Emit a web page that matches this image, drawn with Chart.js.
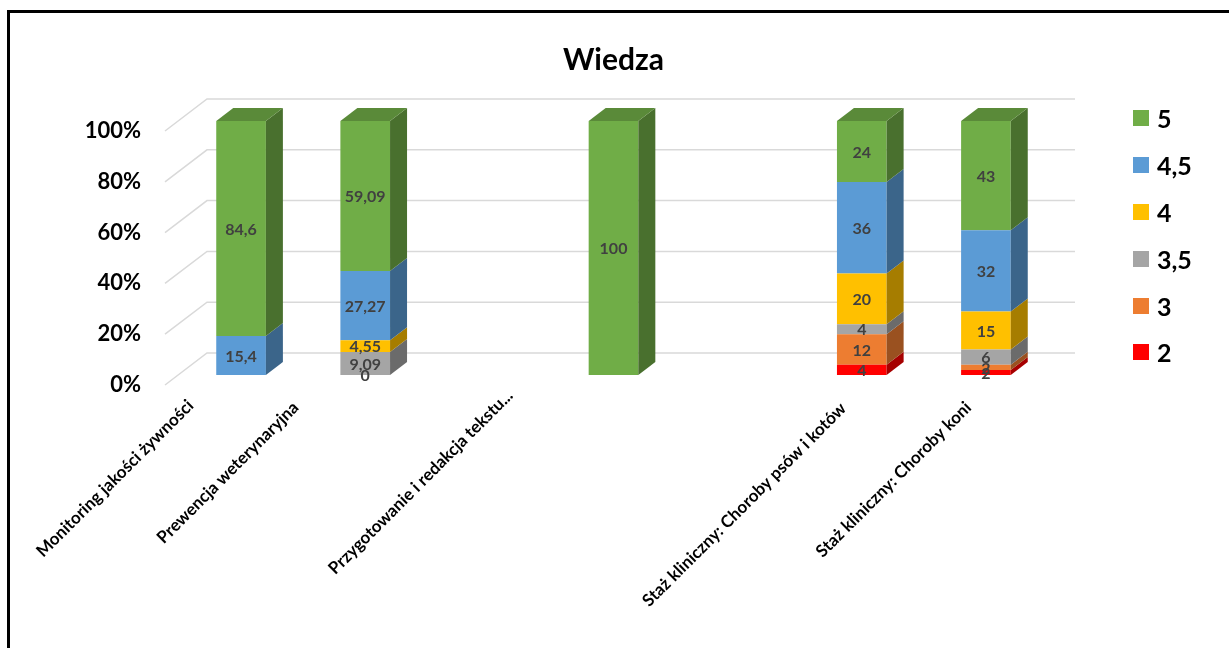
<!DOCTYPE html>
<html lang="pl">
<head>
<meta charset="utf-8">
<title>Wiedza</title>
<script src="https://cdn.jsdelivr.net/npm/chart.js@4.4.1/dist/chart.umd.min.js"></script>
<style>
  html, body { margin: 0; padding: 0; background: #fff; overflow: hidden; }
  #wrap { position: relative; width: 1229px; height: 648px; }
  #frame {
    position: absolute; left: 7px; top: 10px; right: -10px; bottom: -10px;
    border-left: 3px solid #000; border-top: 3px solid #000; pointer-events: none;
  }
  #legend {
    position: absolute; left: 1133px; top: 95px;
    font-family: Lato, "Open Sans", sans-serif; font-weight: bold; font-size: 25px; color: #000;
  }
  .item { height: 46.8px; display: flex; align-items: center; }
  .swatch { width: 16px; height: 16px; margin-right: 8px; }
</style>
</head>
<body>
<div id="wrap">
  <canvas id="chart"></canvas>
  <div id="frame"></div>
  <div id="legend"></div>
</div>
<script>
const categories = [
  "Monitoring jakości żywności",
  "Prewencja weterynaryjna",
  "",
  "Przygotowanie i redakcja tekstu...",
  "",
  "Staż kliniczny: Choroby psów i kotów",
  "Staż kliniczny: Choroby koni"
];

// series from the bottom of the stack upwards
const seriesNames = ["2", "3", "3,5", "4", "4,5", "5"];
const grade2  = [null, null, null, null, null, 4, 2];
const grade3  = [null, 0, null, null, null, 12, 2];
const grade35 = [null, 9.09, null, null, null, 4, 6];
const grade4  = [null, 4.55, null, null, null, 20, 15];
const grade45 = [15.4, 27.27, null, null, null, 36, 32];
const grade5  = [84.6, 59.09, null, 100, null, 24, 43];
const yTicks = [0, 20, 40, 60, 80, 100];

const seriesValues = [grade2, grade3, grade35, grade4, grade45, grade5];
const seriesColors = ["#ff0000", "#ed7d31", "#a5a5a5", "#ffc000", "#5b9bd5", "#70ad47"];

// placement of the rotated category names (Excel shifts them unevenly)
const labelShiftX = [-36, -55, 0, -89, 0, -4, -3];
const labelPadY = [35, 37, 0, 25, 0, 38, 37];

const depthX = 17, depthY = 13;
const FONT = "Lato, 'Open Sans', sans-serif";

function shade(hex, f) {
  const n = parseInt(hex.slice(1), 16);
  const r = Math.round(((n >> 16) & 255) * f);
  const g = Math.round(((n >> 8) & 255) * f);
  const b = Math.round((n & 255) * f);
  return `rgb(${r},${g},${b})`;
}

function fmt(v) {
  return String(v).replace(".", ",");
}

const wallPlugin = {
  id: "wall",
  beforeDatasetsDraw(chart) {
    const { ctx, chartArea } = chart;
    const y = chart.scales.y;
    ctx.save();
    ctx.strokeStyle = "#d9d9d9";
    ctx.lineWidth = 1.5;
    yTicks.forEach((v) => {
      const p = y.getPixelForValue(v);
      ctx.beginPath();
      ctx.moveTo(chartArea.left - 14, p + 10);
      ctx.lineTo(chartArea.left + 28, p - 22);
      ctx.lineTo(chartArea.right + 27, p - 22);
      ctx.stroke();
    });
    ctx.restore();
  }
};

const boxPlugin = {
  id: "box3d",
  afterDatasetsDraw(chart) {
    const { ctx } = chart;
    ctx.save();
    // side and top faces
    chart.data.datasets.forEach((ds, i) => {
      const meta = chart.getDatasetMeta(i);
      meta.data.forEach((bar, j) => {
        const v = ds.data[j];
        if (v === null || v === 0) return;
        const { x, y, base, width } = bar.getProps(["x", "y", "base", "width"], true);
        const l = x - width / 2, r = x + width / 2;
        ctx.fillStyle = shade(ds.backgroundColor, 0.65);
        ctx.beginPath();
        ctx.moveTo(r, y);
        ctx.lineTo(r + depthX, y - depthY);
        ctx.lineTo(r + depthX, base - depthY);
        ctx.lineTo(r, base);
        ctx.closePath();
        ctx.fill();
        const above = chart.data.datasets.slice(i + 1).some((d) => d.data[j]);
        if (!above) {
          ctx.fillStyle = shade(ds.backgroundColor, 0.8);
          ctx.beginPath();
          ctx.moveTo(l, y);
          ctx.lineTo(l + depthX, y - depthY);
          ctx.lineTo(r + depthX, y - depthY);
          ctx.lineTo(r, y);
          ctx.closePath();
          ctx.fill();
        }
      });
    });
    // value labels
    ctx.fillStyle = "#404040";
    ctx.font = `bold 16px ${FONT}`;
    ctx.textAlign = "center";
    ctx.textBaseline = "middle";
    chart.data.datasets.forEach((ds, i) => {
      const meta = chart.getDatasetMeta(i);
      meta.data.forEach((bar, j) => {
        const v = ds.data[j];
        if (v === null) return;
        const { x, y, base } = bar.getProps(["x", "y", "base"], true);
        ctx.fillText(fmt(v), x, (y + base) / 2 + 1);
      });
    });
    ctx.restore();
  }
};

const scales = {
  x: {
    stacked: true,
    grid: { display: false },
    border: { display: false },
    ticks: { display: false },
    afterFit(s) { s.height = 0; }
  },
  y: {
    stacked: true,
    min: 0,
    max: 100,
    grid: { display: false, drawTicks: false },
    border: { display: false },
    ticks: {
      stepSize: 20,
      padding: 38,
      labelOffset: 10,
      color: "#000",
      font: { family: FONT, size: 22, weight: "bold" },
      callback: (v) => v + "%"
    },
    afterFit(s) { s.width = 179; }
  }
};

// one flat axis per category name, so each name can sit where Excel put it;
// mirror keeps Chart.js from clipping the labels to the zero-height axis band
// (mirror also flips the padding direction, hence the minus sign)
categories.forEach((name, i) => {
  if (!name) return;
  scales["label" + i] = {
    type: "category",
    position: "bottom",
    grid: { display: false, drawTicks: false },
    border: { display: false },
    ticks: {
      autoSkip: false,
      mirror: true,
      minRotation: 45,
      maxRotation: 45,
      padding: -labelPadY[i],
      labelOffset: labelShiftX[i],
      color: "#000",
      font: { family: FONT, size: 17, weight: "bold" },
      callback: (v, idx) => (idx === i ? categories[i] : "")
    },
    afterFit(s) { s.height = 0; }
  };
});

new Chart(document.getElementById("chart"), {
  type: "bar",
  data: {
    labels: categories,
    datasets: seriesNames.map((name, i) => ({
      label: name,
      data: seriesValues[i],
      backgroundColor: seriesColors[i],
      barPercentage: 0.4,
      categoryPercentage: 1
    }))
  },
  options: {
    responsive: true,
    maintainAspectRatio: false,
    animation: false,
    layout: { padding: { left: 0, right: 181, top: 0, bottom: 273 } },
    plugins: {
      legend: { display: false },
      tooltip: { enabled: false },
      title: {
        display: true,
        fullSize: false,
        text: "Wiedza",
        color: "#000",
        font: { family: FONT, size: 30, weight: "bold", lineHeight: 1.2 },
        padding: { top: 42, bottom: 43 }
      }
    },
    scales: scales
  },
  plugins: [wallPlugin, boxPlugin]
});

// legend, top entry is the highest grade
const legend = document.getElementById("legend");
seriesNames.slice().reverse().forEach((name, k) => {
  const i = seriesNames.length - 1 - k;
  const item = document.createElement("div");
  item.className = "item";
  const sw = document.createElement("span");
  sw.className = "swatch";
  sw.style.background = seriesColors[i];
  const tx = document.createElement("span");
  tx.textContent = name;
  item.appendChild(sw);
  item.appendChild(tx);
  legend.appendChild(item);
});
</script>
</body>
</html>
